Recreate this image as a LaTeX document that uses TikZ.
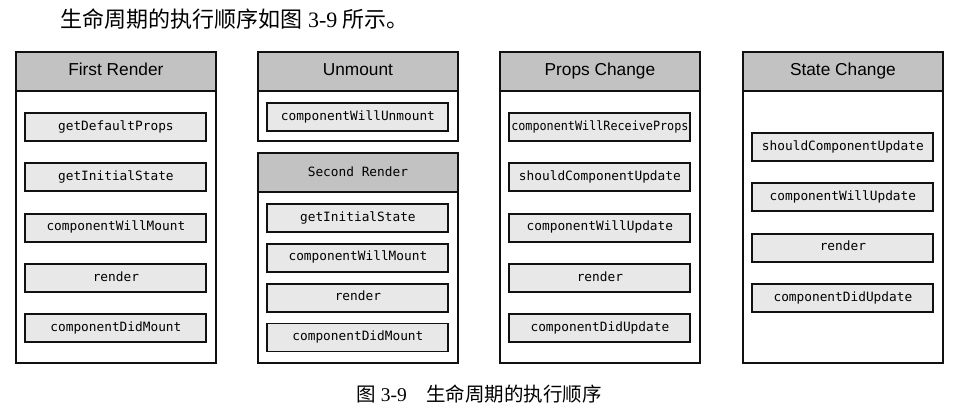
\documentclass[tikz,border=0pt]{standalone}
\usepackage{fontspec}
\setmainfont{Liberation Serif}
\newfontfamily\cjk{Noto Sans CJK SC}
\newfontfamily\headfont{Liberation Sans}
\newfontfamily\codefont{DejaVu Sans Mono}
\usetikzlibrary{positioning}
\definecolor{headgray}{HTML}{C2C2C2}
\definecolor{boxgray}{HTML}{E8E8E8}
\definecolor{edge}{HTML}{111111}
\tikzset{
	panel/.style={draw=edge, line width=1.9pt, fill=white, anchor=north west,
		minimum width=200pt, inner sep=0pt},
	head/.style={draw=edge, line width=1.9pt, fill=headgray, anchor=north,
		minimum width=200pt, minimum height=39pt, inner sep=0pt,
		text height=12.5pt, text depth=3.5pt,
		font=\headfont\fontsize{17.3}{20}\selectfont},
	method/.style={draw=edge, line width=1.9pt, fill=boxgray,
		minimum width=181pt, minimum height=28pt, inner sep=0pt,
		text height=9.5pt, text depth=3pt,
		font=\codefont\fontsize{12.8}{15}\selectfont}
}
\begin{document}
\begin{tikzpicture}[x=1pt, y=-1pt, node distance=20.5pt]
	\useasboundingbox (0,0) rectangle (974,413);
	
	\node[anchor=base west, font=\fontsize{22}{24}\selectfont] (intro) at (57,27)
		{{\cjk 生命周期的执行顺序如图} 3-9 {\cjk 所示。}};
	
	% first render
	\node[panel, minimum height=311pt] (first) at (14.95,50.95) {};
	\node[head] (firsthead) at (first.north) {First Render};
	\node[method, below=20pt of firsthead] (first1) {getDefaultProps};
	\node[method, below=of first1] (first2) {getInitialState};
	\node[method, below=of first2] (first3) {componentWillMount};
	\node[method, below=of first3] (first4) {render};
	\node[method, below=of first4] (first5) {componentDidMount};
	
	% unmount
	\node[panel, minimum height=89pt] (unmount) at (256.95,50.95) {};
	\node[head] (unmounthead) at (unmount.north) {Unmount};
	\node[method, below=10pt of unmounthead] (unmount1) {componentWillUnmount};
	
	% second render
	\node[panel, minimum height=210pt] (second) at (256.95,151.95) {};
	\node[head, font=\codefont\fontsize{12.8}{15}\selectfont] (secondhead) at (second.north) {Second Render};
	\node[method, below=10pt of secondhead] (second1) {getInitialState};
	\node[method, below=10pt of second1] (second2) {componentWillMount};
	\node[method, below=10pt of second2] (second3) {render};
	\node[method, below=10pt of second3] (second4) {componentDidMount};
	
	% props change
	\node[panel, minimum height=311pt] (props) at (498.95,50.95) {};
	\node[head] (propshead) at (props.north) {Props Change};
	\node[method, below=20pt of propshead] (props1) {\scalebox{0.92}[1]{componentWillReceiveProps}};
	\node[method, below=of props1] (props2) {shouldComponentUpdate};
	\node[method, below=of props2] (props3) {componentWillUpdate};
	\node[method, below=of props3] (props4) {render};
	\node[method, below=of props4] (props5) {componentDidUpdate};
	
	% state change
	\node[panel, minimum height=311pt] (state) at (741.95,50.95) {};
	\node[head] (statehead) at (state.north) {State Change};
	\node[method, below=40pt of statehead] (state1) {shouldComponentUpdate};
	\node[method, below=of state1] (state2) {componentWillUpdate};
	\node[method, below=of state2] (state3) {render};
	\node[method, below=of state3] (state4) {componentDidUpdate};
	
	\node[anchor=base west, font=\fontsize{19.5}{22}\selectfont] (caption) at (353,401)
		{{\cjk 图} 3-9\hspace{1em}{\cjk 生命周期的执行顺序}};
\end{tikzpicture}
\end{document}
